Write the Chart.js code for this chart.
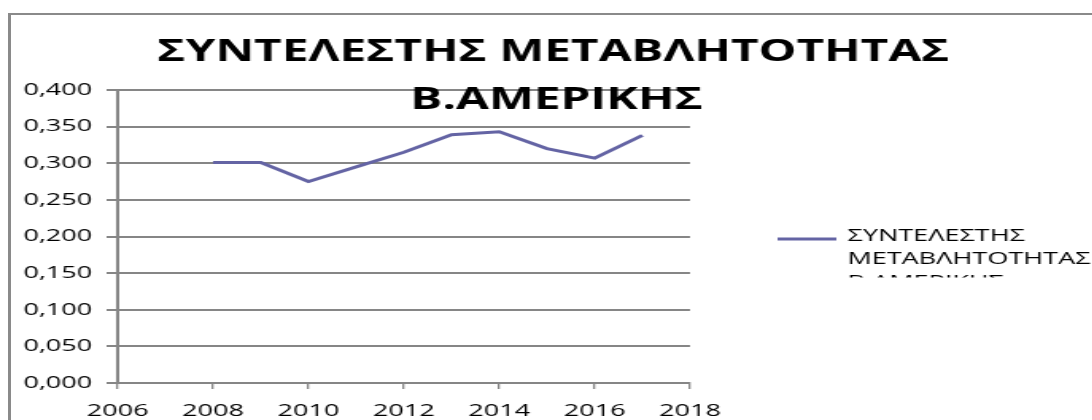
<!DOCTYPE html>
<html>
<head>
<meta charset="utf-8">
<script src="https://cdn.jsdelivr.net/npm/chart.js@4"></script>
<style>
    html, body { margin: 0; padding: 0; background: #fff; overflow: hidden; }
    #frame {
        position: absolute; left: 8px; top: 13px; width: 1200px; height: 600px;
        border-left: 3px solid #8a8a8a; border-top: 2px solid #8a8a8a;
    }
    /* 原图是横向拉伸的，这里整体拉伸 */
    #wrap {
        position: absolute; left: 0; top: 0; width: 687px; height: 420px;
        transform: scaleX(1.59); transform-origin: 0 0;
    }
</style>
</head>
<body>
<div id="frame"></div>
<div id="wrap"><canvas id="chart"></canvas></div>
<script>
// 数据
const years = [2008, 2009, 2010, 2011, 2012, 2013, 2014, 2015, 2016, 2017];
const values = [0.301, 0.301, 0.275, 0.295, 0.315, 0.339, 0.343, 0.320, 0.307, 0.338];
const seriesLabel = 'ΣΥΝΤΕΛΕΣΤΗΣ ΜΕΤΑΒΛΗΤΟΤΗΤΑΣ Β.ΑΜΕΡΙΚΗΣ';
const titleLines = ['ΣΥΝΤΕΛΕΣΤΗΣ ΜΕΤΑΒΛΗΤΟΤΗΤΑΣ', 'Β.ΑΜΕΡΙΚΗΣ'];
const xRange = [2006, 2018, 2];
const yRange = [0, 0.4, 0.05];

const LINE_COLOR = '#6464a4';
const GRID_COLOR = '#868686';
const FONT = '"Open Sans", "DejaVu Sans", sans-serif';

// 标题和图例（标题压在绘图区上面，图例第三行被裁掉）
const overlayPlugin = {
    id: 'overlay',
    afterDraw(chart) {
        const ctx = chart.ctx;
        ctx.save();
        ctx.fillStyle = '#000';
        ctx.textAlign = 'center';
        ctx.textBaseline = 'middle';
        ctx.font = 'bold 30px ' + FONT;
        ctx.fillText(titleLines[0], 348, 52);
        ctx.fillText(titleLines[1], 350, 100);

        const ds = chart.data.datasets[0];
        ctx.strokeStyle = ds.borderColor;
        ctx.lineWidth = 3;
        ctx.beginPath();
        ctx.moveTo(489, 239);
        ctx.lineTo(526, 239);
        ctx.stroke();

        ctx.beginPath();
        ctx.rect(520, 200, 200, 77.5);
        ctx.clip();
        ctx.textAlign = 'left';
        ctx.font = '17px ' + FONT;
        ds.label.split(' ').forEach((word, i) => {
            ctx.fillText(word, 533, 236 + i * 23.3);
        });
        ctx.restore();
    }
};

const ctx = document.getElementById('chart').getContext('2d');
const chart = new Chart(ctx, {
    type: 'line',
    data: {
        datasets: [{
            label: seriesLabel,
            data: years.map((y, i) => ({ x: y, y: values[i] })),
            borderColor: LINE_COLOR,
            borderWidth: 3,
            pointRadius: 0,
            tension: 0,
            fill: false
        }]
    },
    options: {
        responsive: true,
        maintainAspectRatio: false,
        animation: false,
        layout: { padding: { left: 0, right: 253, top: 90, bottom: 0 } },
        plugins: {
            legend: { display: false },
            title: { display: false },
            tooltip: { enabled: false }
        },
        scales: {
            x: {
                type: 'linear',
                min: xRange[0],
                max: xRange[1],
                afterFit: s => { s.height = 37; },
                ticks: {
                    stepSize: xRange[2],
                    color: '#000',
                    font: { family: FONT, size: 17 },
                    padding: 12,
                    callback: v => String(v)
                },
                grid: {
                    drawOnChartArea: false,
                    drawTicks: true,
                    tickLength: 6,
                    color: GRID_COLOR,
                    lineWidth: 1.3
                },
                border: { color: GRID_COLOR, width: 2 }
            },
            y: {
                min: yRange[0],
                max: yRange[1],
                afterFit: s => { s.width = 74; },
                ticks: {
                    stepSize: yRange[2],
                    color: '#000',
                    font: { family: FONT, size: 17 },
                    padding: 9,
                    callback: v => v.toFixed(3).replace('.', ',')
                },
                grid: {
                    color: GRID_COLOR,
                    lineWidth: 2,
                    tickLength: 7
                },
                border: { color: GRID_COLOR, width: 2 }
            }
        }
    },
    plugins: [overlayPlugin]
});
</script>
</body>
</html>
